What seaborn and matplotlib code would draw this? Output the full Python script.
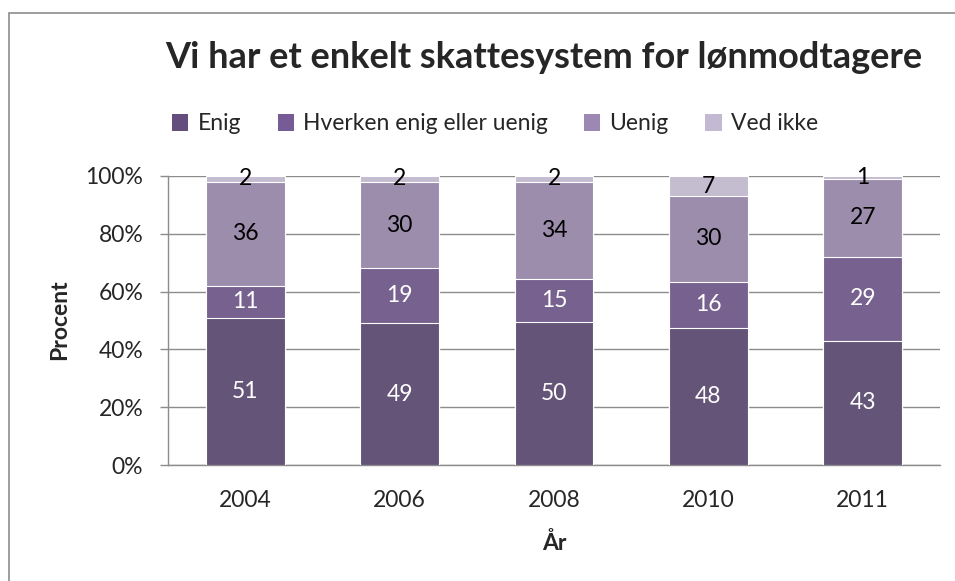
import numpy as np
import pandas as pd
import matplotlib
matplotlib.use("Agg")
import matplotlib.pyplot as plt
from matplotlib.patches import Patch, Rectangle
import seaborn as sns

# data
years = ["2004", "2006", "2008", "2010", "2011"]
enig = [51, 49, 50, 48, 43]
hverken = [11, 19, 15, 16, 29]
uenig = [36, 30, 34, 30, 27]
ved_ikke = [2, 2, 2, 7, 1]

series_names = ["Enig", "Hverken enig eller uenig", "Uenig", "Ved ikke"]
colors = ["#634E7E", "#765B96", "#9C88B2", "#C4B9D2"]
label_colors = ["white", "white", "black", "black"]

df = pd.DataFrame({"year": years, "Enig": enig,
                   "Hverken enig eller uenig": hverken,
                   "Uenig": uenig, "Ved ikke": ved_ikke})
totals = df[series_names].sum(axis=1)
pct = df[series_names].div(totals, axis=0) * 100
cum = pct.cumsum(axis=1)

sns.set_theme(style="white")
plt.rcParams["font.family"] = ["Lato", "DejaVu Sans"]

fig = plt.figure(figsize=(9.55, 5.81), dpi=100)
ax = fig.add_axes([168/955, 1-465/581, (940-168)/955, (465-176)/581])

# draw cumulative bars from the top series down so lower ones overlay
for name, col in reversed(list(zip(series_names, colors))):
    sns.barplot(x=df["year"], y=cum[name], color=col, width=0.51,
                edgecolor="white", linewidth=0.8, ax=ax, zorder=3)

# segment labels
for i in range(len(years)):
    for j, name in enumerate(series_names):
        top = cum[name].iloc[i]
        mid = top - pct[name].iloc[i] / 2
        ax.text(i, mid, str(df[name].iloc[i]), ha="center", va="center",
                fontsize=16.5, color=label_colors[j], zorder=5)

ax.set_ylim(0, 100)
ax.set_xlim(-0.5, len(years) - 0.5)
ax.set_yticks(np.arange(0, 101, 20))
ax.set_yticklabels([f"{v}%" for v in range(0, 101, 20)], fontsize=16.5)
ax.tick_params(axis="x", labelsize=16.5, length=0, pad=18)
ax.tick_params(axis="y", length=5.8, width=1, color="#8C8C8C", pad=12, direction="out", left=True)
ax.yaxis.grid(True, color="#8C8C8C", linewidth=1)
ax.set_axisbelow(True)
for s in ["top", "right"]:
    ax.spines[s].set_visible(False)
for s in ["left", "bottom"]:
    ax.spines[s].set_color("#8C8C8C")
    ax.spines[s].set_linewidth(1)

ax.set_xlabel("")
ax.set_ylabel("")
fig.text(554/955, 1-543/581, "År", ha="center", va="center",
         fontsize=16.5, fontweight="bold")
fig.text(60/955, 1-320/581, "Procent", ha="center", va="center",
         rotation=90, fontsize=16.5, fontweight="bold")

fig.text(0.569, 1-57/581, "Vi har et enkelt skattesystem for lønmodtagere",
         ha="center", va="center", fontsize=26, fontweight="bold")

handles = [Patch(facecolor=c, edgecolor="none") for c in colors]
fig.legend(handles, series_names, ncol=4, loc="center",
           bbox_to_anchor=(495/955, 1-124/581), frameon=False, fontsize=16.5,
           handlelength=0.7, handleheight=0.7, handletextpad=0.4,
           columnspacing=1.6)

fig.patches.append(Rectangle((9/955, -0.1), 1.2, 1-13/581+0.1,
                             transform=fig.transFigure, fill=False,
                             edgecolor="#8C8C8C", linewidth=1.2))

fig.savefig("out.png", dpi=100)
